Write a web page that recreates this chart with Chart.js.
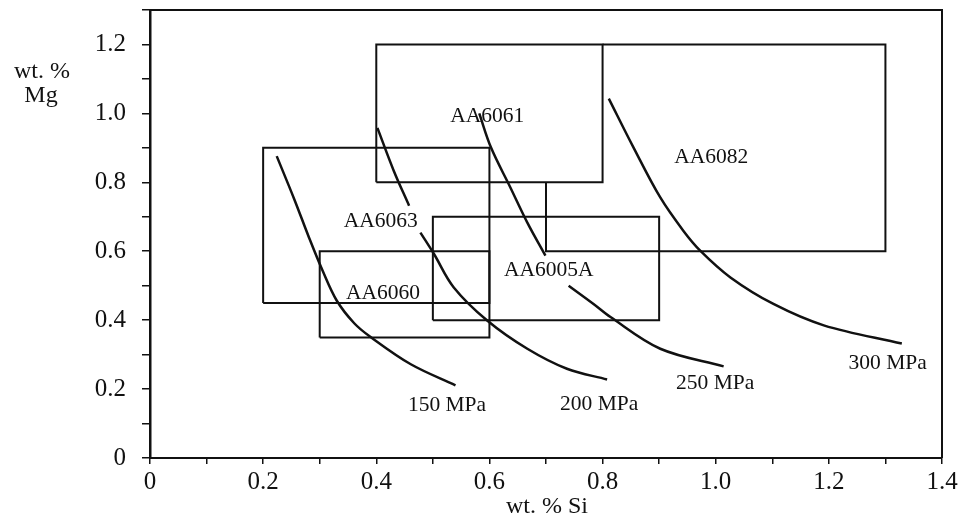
<!DOCTYPE html>
<html><head><meta charset="utf-8">
<script src="https://cdn.jsdelivr.net/npm/chart.js@4.4.1/dist/chart.umd.min.js"></script>
<style>html,body{margin:0;padding:0;background:#fff}#wrap{width:959px;height:518px}</style>
</head><body><div id="wrap"><canvas id="c" width="959" height="518"></canvas></div>
<script>
// ---- tick labels ----
const xTickLabels = ['0','0.2','0.4','0.6','0.8','1.0','1.2','1.4'];
const yTickLabels = ['0','0.2','0.4','0.6','0.8','1.0','1.2'];

// ---- alloy composition boxes (wt.% Si / wt.% Mg) ----
const alloyNames = ['AA6060','AA6063','AA6005A','AA6061','AA6082'];
const siMin = [0.3, 0.2, 0.5, 0.4, 0.7];
const siMax = [0.6, 0.6, 0.9, 0.8, 1.3];
const mgMin = [0.35, 0.45, 0.4, 0.8, 0.6];
const mgMax = [0.6, 0.9, 0.7, 1.2, 1.2];

// ---- iso-strength curves (null = gap for label) ----
const mpa150Si = [0.224,0.255,0.281,0.305,0.330,0.361,0.390,0.461,0.540];
const mpa150Mg = [0.876,0.751,0.640,0.544,0.457,0.391,0.351,0.272,0.211];
const mpa200Si = [0.402,0.431,0.458,null,0.478,0.502,0.537,0.596,0.667,0.737,0.808];
const mpa200Mg = [0.958,0.833,0.732,null,0.654,0.592,0.495,0.399,0.317,0.259,0.228];
const mpa250Si = [0.582,0.603,0.637,0.667,0.699,null,0.740,0.784,0.814,0.902,1.014];
const mpa250Mg = [1.000,0.900,0.785,0.683,0.587,null,0.500,0.447,0.409,0.317,0.266];
const mpa300Si = [0.811,0.855,0.902,0.943,0.973,1.026,1.102,1.191,1.329];
const mpa300Mg = [1.043,0.900,0.756,0.659,0.601,0.524,0.447,0.385,0.332];

// ---- text annotations ----
const labelText = ['AA6061','AA6082','AA6063','AA6060','AA6005A','150 MPa','200 MPa','250 MPa','300 MPa'];
const labelSi   = [0.596, 0.992, 0.408, 0.412, 0.705, 0.525, 0.794, 0.999, 1.304];
const labelMg   = [0.990, 0.873, 0.688, 0.477, 0.544, 0.153, 0.156, 0.217, 0.275];

const INK = '#111';
const FONT = '"Liberation Serif", "Times New Roman", serif';

function boxOutline(i){
  const name = alloyNames[i];
  if (name === 'AA6082') {
    // portion hidden behind AA6061 is not outlined
    const j = alloyNames.indexOf('AA6061');
    return [[siMax[j], mgMax[i]],[siMax[i], mgMax[i]],[siMax[i], mgMin[i]],[siMin[i], mgMin[i]],[siMin[i], mgMin[j]]];
  }
  return [[siMin[i],mgMin[i]],[siMax[i],mgMin[i]],[siMax[i],mgMax[i]],[siMin[i],mgMax[i]],[siMin[i],mgMin[i]]];
}
function toPts(xs, ys){ return xs.map((x,k)=>({x:x, y:ys[k]})); }

const datasets = [];
alloyNames.forEach((n,i)=>{
  datasets.push({label:n, data: boxOutline(i).map(p=>({x:p[0], y:p[1]})),
    showLine:true, borderColor:INK, borderWidth:2, pointRadius:0, tension:0, fill:false});
});
[[mpa150Si,mpa150Mg,'150'],[mpa200Si,mpa200Mg,'200'],[mpa250Si,mpa250Mg,'250'],[mpa300Si,mpa300Mg,'300']].forEach(c=>{
  datasets.push({label:c[2]+' MPa', data: toPts(c[0],c[1]), showLine:true, borderColor:INK, borderWidth:2.5,
    pointRadius:0, tension:0.35, spanGaps:false, fill:false, borderCapStyle:'butt'});
});

const decor = {
  id:'decor',
  afterDatasetsDraw(chart){
    const {ctx, chartArea:a, scales:{x, y}} = chart;
    ctx.save();
    // frame top + right
    ctx.strokeStyle = INK; ctx.lineWidth = 2;
    ctx.beginPath(); ctx.moveTo(a.left, a.top); ctx.lineTo(a.right, a.top); ctx.lineTo(a.right, a.bottom); ctx.stroke();
    // annotations
    ctx.fillStyle = INK;
    ctx.font = '21.5px ' + FONT;
    ctx.textAlign = 'center'; ctx.textBaseline = 'middle';
    labelText.forEach((t,i)=>{ ctx.fillText(t, x.getPixelForValue(labelSi[i]), y.getPixelForValue(labelMg[i])); });
    // axis titles
    ctx.font = '24px ' + FONT;
    ctx.textBaseline = 'alphabetic';
    ctx.fillText('wt. %', 42, 78);
    ctx.fillText('Mg', 41, 102);
    ctx.fillText('wt. % Si', 547, 513);
    ctx.restore();
  }
};

new Chart(document.getElementById('c'), {
  type:'scatter',
  data:{datasets},
  options:{
    responsive:false, animation:false, events:[],
    layout:{padding:{top:10, right:17, left:0, bottom:0}},
    plugins:{legend:{display:false}, tooltip:{enabled:false}},
    scales:{
      x:{type:'linear', min:0, max:1.4,
        afterFit(s){ s.height = 60; s.paddingLeft = 0; s.paddingRight = 0; },
        border:{color:INK, width:2},
        grid:{drawOnChartArea:false, drawTicks:true, tickLength:6, color:INK, lineWidth:1.5},
        ticks:{stepSize:0.1, autoSkip:false, maxRotation:0, padding:3, color:INK,
          font:{family:FONT, size:25},
          callback:(v)=>{ const k = Math.round(v*10); return k%2===0 ? (xTickLabels[k/2] ?? '') : ''; }}
      },
      y:{type:'linear', min:0, max:1.3,
        afterFit(s){ s.width = 150; s.paddingTop = 0; s.paddingBottom = 0; },
        border:{color:INK, width:2.5},
        grid:{drawOnChartArea:false, drawTicks:true, tickLength:8, color:INK, lineWidth:1.5},
        ticks:{stepSize:0.1, autoSkip:false, padding:16, color:INK,
          font:{family:FONT, size:25},
          callback:(v)=>{ const k = Math.round(v*10); return k%2===0 ? (yTickLabels[k/2] ?? '') : ''; }}
      }
    }
  },
  plugins:[decor]
});
</script>
</body></html>
